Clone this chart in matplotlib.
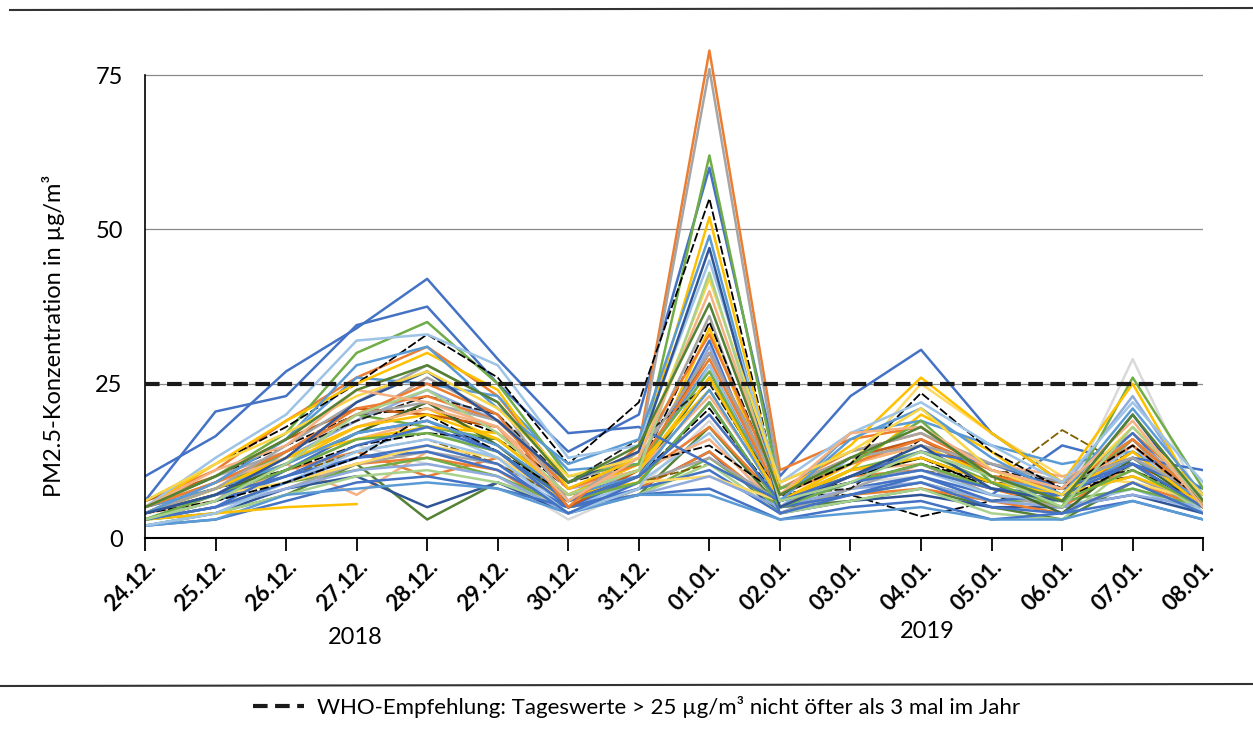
import numpy as np
import matplotlib.pyplot as plt
from matplotlib.lines import Line2D

plt.rcParams['font.family'] = ['Lato', 'DejaVu Sans']

dates = ['24.12.', '25.12.', '26.12.', '27.12.', '28.12.', '29.12.', '30.12.', '31.12.',
         '01.01.', '02.01.', '03.01.', '04.01.', '05.01.', '06.01.', '07.01.', '08.01.']
years = ['2018', '2019']
who_limit = 25

# daily PM2.5 means per station (µg/m³)
high_stations = [
    [10, 16.5, 27, 34, 42, 29, 17, 18, 12, 6, 10, 14, 12, 8, 12, 8],
    [6, 20.5, 23, 34.5, 37.5, 25, 14, 20, 60, 10, 23, 30.5, 17, 9, 13, 11],
    [5, 9, 14, 20, 25, 20, 5, 15, 79, 11, 16, 18, 10, 8, 16, 6],
    [4, 8, 15, 22, 28, 22, 6, 14, 76, 9, 14, 17, 12, 9, 13, 7],
    [5, 10, 17, 30, 35, 25, 10, 12, 62, 8, 12, 19, 9, 5, 26, 8],
    [6, 12, 18, 25, 33, 26, 12, 22, 55, 7, 12, 23.5, 14, 8, 15, 6],
    [5, 12, 19, 25, 30, 24, 8, 13, 52, 7, 15, 26, 17, 9, 25, 5],
    [4, 9, 16, 28, 31, 21, 12, 16, 49, 6, 16, 21, 13, 7, 21, 7],
    [5, 13, 20, 32, 33, 28, 13, 15, 45, 9, 17, 22, 15, 9, 22, 9],
    [4, 7, 13, 22, 27, 19, 9, 14, 47, 5, 10, 15, 8, 6, 20, 5],
    [6, 12, 17, 23, 27, 21, 10, 13, 42, 9, 14, 21, 11, 7, 18, 7],
    [3, 6, 12, 20, 24, 17, 7, 11, 43, 6, 9, 14, 10, 5, 18, 6],
    [5, 11, 15, 24, 22, 18, 6, 13, 40, 7, 17, 18, 11, 8, 19, 5],
    [5, 10, 16, 24, 28, 22, 9, 15, 38, 7, 13, 18, 10, 6, 20, 6],
]
high_colors = ['#4472C4', '#4472C4', '#ED7D31', '#A5A5A5', '#70AD47', '#000000', '#FFC000',
               '#5B9BD5', '#9DC3E6', '#2F5597', '#F9D648', '#A9D18E', '#F4B183', '#548235']

mid_stations = [
    [3, 6, 14, 19, 26, 20, 8, 12, 36, 4, 8, 12, 7, 5, 16, 4],
    [5, 10, 15, 20, 21, 17, 8, 11, 35, 7, 9, 12, 9, 8, 14, 6],
    [4, 8, 12, 18, 21, 16, 7, 9, 34, 5, 11, 20, 14, 6, 14, 6],
    [6, 11, 19, 26, 31, 23, 9, 14, 33, 8, 14, 17, 11, 8, 17, 7],
    [3, 5, 11, 17, 19, 14, 5, 10, 32, 4, 7, 10, 6, 7, 17, 5],
    [3, 7, 13, 19, 24, 19, 8, 10, 31, 5, 13, 16, 10, 8, 23, 6],
    [6, 10, 16, 21, 20, 18, 5, 11, 30, 8, 13, 16, 10, 9, 12, 7],
    [4, 9, 16, 26, 25, 23, 11, 12, 28, 6, 17, 19, 15, 12, 14, 8],
    [2, 4, 9, 14, 16, 13, 4, 8, 28, 5, 9, 11, 7, 6, 15, 4],
    [4, 8, 14, 20, 18, 16, 7, 12, 27, 6, 11, 14, 9, 7, 16, 6],
    [4, 7, 12, 17, 22, 15, 6, 10, 26, 6, 10, 13, 9, 4, 13, 5],
    [5, 9, 14, 19, 23, 20, 9, 16, 25, 7, 8, 16, 11, 9, 11, 6],
    [4, 8, 13, 16, 18, 17, 7, 12, 24, 6, 12, 15, 10, 7, 10, 6],
    [5, 9, 13, 18, 21, 18, 8, 11, 23, 7, 12, 15, 12, 10, 13, 6],
    [3, 5, 9, 13, 15, 12, 4, 9, 22, 5, 7, 9, 5, 4, 9, 4],
    [4, 6, 9, 13, 20, 14, 7, 10, 21, 6, 10, 13, 8, 6, 12, 5],
    [4, 9, 14, 21, 23, 19, 8, 12, 29, 7, 12, 16, 11, 8, 15, 6],
    [5, 8, 12, 17, 19, 15, 7, 10, 24, 6, 10, 14, 10, 7, 13, 6],
    [3, 7, 11, 16, 17, 14, 6, 9, 22, 5, 9, 12, 8, 6, 11, 5],
    [4, 8, 13, 18, 20, 16, 7, 11, 26, 6, 11, 13, 9, 7, 14, 5],
    [5, 10, 14, 20, 22, 19, 9, 13, 30, 8, 13, 15, 12, 9, 16, 7],
    [4, 7, 10, 15, 18, 14, 6, 10, 20, 6, 9, 11, 8, 7, 12, 5],
]
mid_colors = ['#A5A5A5', '#000000', '#FFC000', '#ED7D31', '#4472C4', '#8FAADC', '#C55A11',
              '#5B9BD5', '#9DC3E6', '#70AD47', '#43682B', '#1F1F1F', '#FFC000', '#F4B183',
              '#4472C4', '#000000', '#ED7D31', '#5B9BD5', '#70AD47', '#FFC000', '#A5A5A5',
              '#4472C4']

low_stations = [
    [5, 8, 12, 7, 14, 11, 5, 10, 20, 6, 11, 12, 8, 6, 11, 5],
    [4, 7, 10, 15, 12, 10, 3, 8, 19, 4, 9, 10, 7, 5, 29, 5],
    [3, 4, 7, 12, 3, 9, 5, 7, 18, 5, 6, 8, 5, 3, 9, 4],
    [4, 7, 11, 14, 10, 13, 6, 10, 18, 6, 10, 11, 8, 5, 12, 5],
    [3, 6, 10, 14, 18, 13, 5, 9, 17, 4, 8, 10, 6, 5, 8, 4],
    [4, 6, 11, 16, 19, 15, 6, 11, 16, 5, 10, 13, 9, 8, 10, 5],
    [5, 8, 11, 15, 17, 16, 9, 12, 15, 7, 7, 3.5, 6, 8, 10, 5],
    [2, 4, 8, 10, 5, 9, 4, 8, 14, 4, 6, 7, 5, 5, 7, 4],
    [3, 5, 9, 12, 13, 11, 4, 8, 14, 5, 7, 8, 6, 4, 9, 5],
    [3, 5, 9, 11, 13, 10, 5, 7, 13, 5, 7, 9, 6, 6, 8, 5],
    [3, 5, 8, 12, 14, 12, 6, 9, 13, 6, 9, 12, 8, 7, 10, 5],
    [4, 7, 10, 14, 16, 12, 6, 9, 12, 6, 9, 11, 9, 17.5, 11, 6],
    [2, 4, 7, 10, 11, 9, 5, 7, 12, 4, 6, 8, 4, 3, 12, 4],
    [3, 6, 10, 13, 14, 11, 5, 8, 11, 4, 8, 10, 7, 15, 12, 5],
    [4, 7, 9, 12, 15, 13, 6, 9, 10, 6, 12, 25, 17, 10, 9, 6],
    [3, 5, 8, 11, 12, 10, 4, 7, 10, 5, 8, 9, 6, 5, 7, 5],
    [2, 3, 6, 9, 10, 8, 5, 7, 8, 3, 5, 6, 3, 4, 6, 3],
    [2, 3, 7, 8, 9, 8, 4, 7, 7, 3, 4, 5, 3, 3, 6, 3],
    [3, 4, 5, 5.5, None, None, None, None, None, None, None, None, None, None, None, None],
]
low_colors = ['#F4B183', '#D9D9D9', '#548235', '#ED7D31', '#9DC3E6', '#F4B183', '#000000',
              '#2F5597', '#ED7D31', '#70AD47', '#A5A5A5', '#7F6000', '#A9D18E', '#4472C4',
              '#FFD966', '#8FAADC', '#4472C4', '#5B9BD5', '#FFC000']

fig = plt.figure(figsize=(12.53, 7.36), dpi=100)
ax = fig.add_axes([0.1157, 0.269, 0.8446, 0.6875])

x = np.arange(len(dates))
groups = [(low_stations, low_colors), (mid_stations, mid_colors), (high_stations, high_colors)]
for stations, colors in groups:
    for vals, c in zip(stations, colors):
        y = np.array([np.nan if v is None else v for v in vals], dtype=float)
        if c in ('#000000', '#1F1F1F', '#7F6000'):
            ax.plot(x, y, color=c, lw=1.3, ls=(0, (5, 1.5)), zorder=2)
        else:
            ax.plot(x, y, color=c, lw=1.8, zorder=2)

who, = ax.plot([0, len(dates) - 1], [who_limit, who_limit], color='#1a1a1a', lw=3,
               ls=(0, (3.5, 1.8)), zorder=4,
               label='WHO-Empfehlung: Tageswerte > 25 µg/m³ nicht öfter als 3 mal im Jahr')

ax.set_xlim(0, len(dates) - 1)
ax.set_ylim(0, 82)
ax.set_yticks([0, 25, 50, 75])
for v in [25, 50, 75]:
    ax.axhline(v, color='#8a8a8a', lw=0.9, zorder=1)

ax.set_xticks(x)
ax.set_xticklabels(dates, rotation=45, ha='right', rotation_mode='anchor',
                   fontsize=16, fontweight='bold')
ax.tick_params(axis='x', length=9, width=1.3, direction='out', pad=4)
ax.tick_params(axis='y', length=0, pad=16, labelsize=17)
for s in ['top', 'right']:
    ax.spines[s].set_visible(False)
ax.spines['left'].set_bounds(0, 75)
ax.spines['left'].set_linewidth(1.2)
ax.spines['bottom'].set_linewidth(1.5)
ax.set_ylabel('PM2.5-Konzentration in µg/m³', fontsize=17)
ax.yaxis.set_label_coords(-0.0756, 0.40)

fig.text(355 / 1253, 1 - 637 / 736, years[0], ha='center', va='center', fontsize=17)
fig.text(927 / 1253, 1 - 632 / 736, years[1], ha='center', va='center', fontsize=17)

fig.add_artist(Line2D([10 / 1253, 1], [1 - 10 / 736, 1 - 8 / 736], color='#333333', lw=1.5))
fig.add_artist(Line2D([0, 1], [1 - 686 / 736, 1 - 684 / 736], color='#333333', lw=1.5))

fig.legend(handles=[who], loc='center', bbox_to_anchor=(0.508, 1 - 707 / 736),
           frameon=False, fontsize=16, handlelength=2.3, handletextpad=0.6)

fig.savefig('out.png', dpi=100)
